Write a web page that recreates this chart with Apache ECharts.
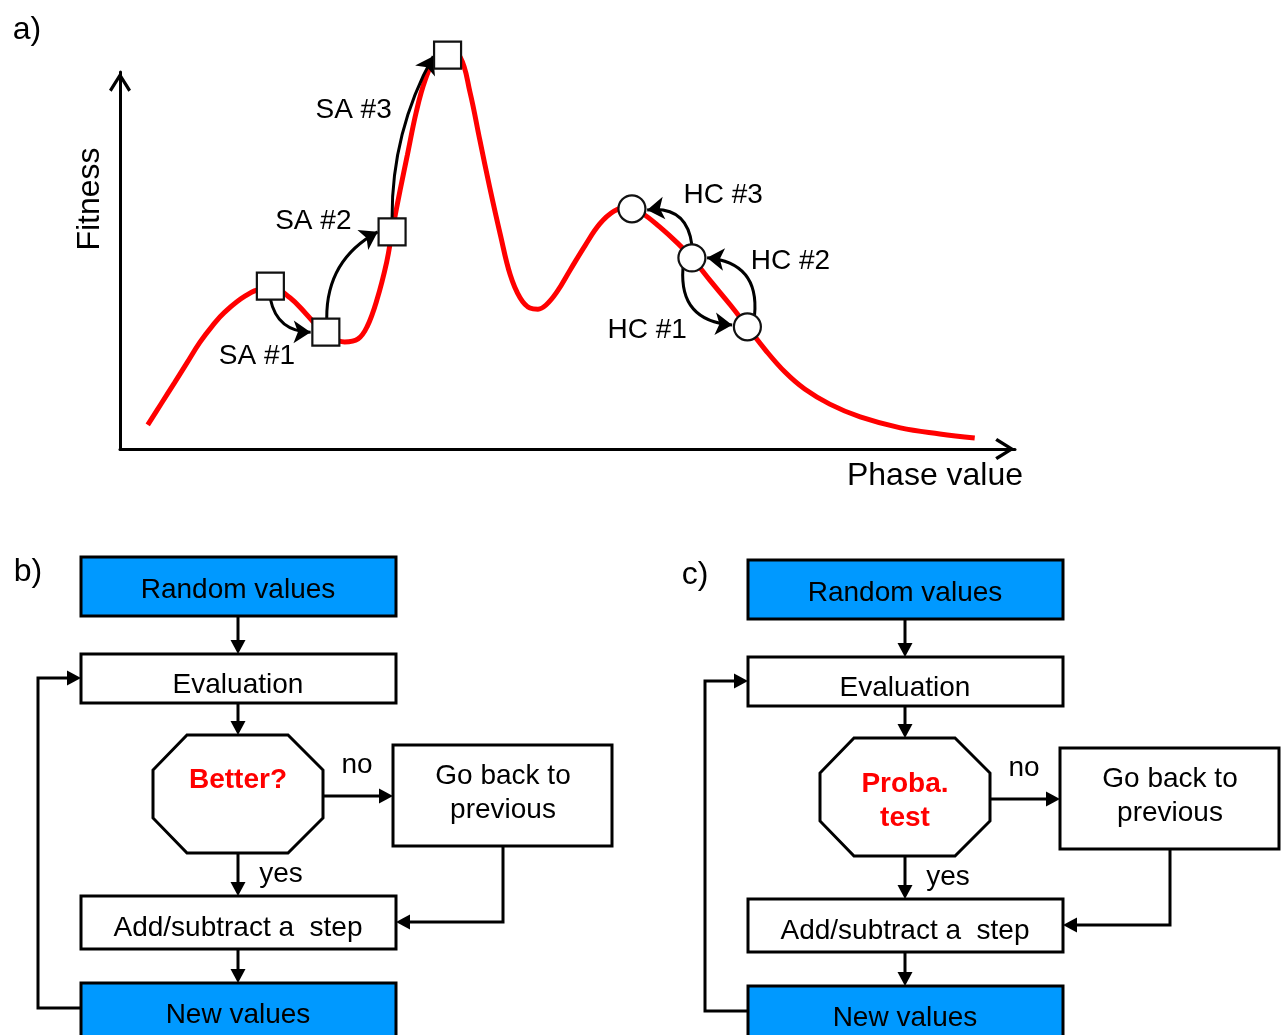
<!DOCTYPE html>
<html><head><meta charset="utf-8">
<script src="https://cdn.jsdelivr.net/npm/echarts@6/dist/echarts.min.js"></script>
<style>html,body{margin:0;padding:0;background:#fff}#main{width:1288px;height:1035px}</style>
</head><body><div id="main"></div>
<script>
// ---------- Panel a: fitness landscape ----------
const curvePhase = [3.1, 4.6, 6.1, 7.5, 8.9, 10.3, 11.7, 14.0, 15.9, 17.3, 19.0, 20.7, 22.1, 23.5, 25.1, 26.6, 27.6, 28.7, 29.8, 30.4, 31.3, 32.1, 33.1, 34.1, 35.3, 36.6, 38.0, 39.1, 40.2, 41.3, 42.5, 43.6, 44.7, 45.8, 46.7, 47.6, 48.8, 50.3, 52.0, 53.6, 55.2, 56.8, 58.3, 60.3, 62.3, 63.9, 65.9, 68.2, 70.1, 72.1, 74.3, 76.5, 79.3, 82.7, 87.2, 91.6, 95.5];
const curveFitness = [6.4, 12.0, 17.6, 22.9, 28.2, 32.6, 36.3, 40.6, 42.4, 42.4, 40.1, 36.1, 32.4, 29.7, 28.4, 29.2, 32.4, 39.5, 49.6, 57.6, 68.7, 77.9, 89.4, 97.9, 104.0, 105.8, 104.0, 94.7, 82.0, 69.5, 56.8, 46.2, 40.1, 37.4, 37.1, 38.2, 41.6, 47.5, 54.1, 59.7, 63.1, 64.2, 62.6, 58.9, 54.6, 50.7, 44.8, 38.2, 32.4, 26.3, 20.4, 15.9, 11.9, 8.5, 5.6, 4.0, 2.9];

const saPhase = [16.8, 23.0, 30.4, 36.6];
const saFitness = [43.2, 31.0, 57.6, 104.5];
const hcPhase = [57.2, 63.9, 70.1];
const hcFitness = [63.7, 50.7, 32.4];

const stepFrom = [[16.8, 39.8], [23.1, 34.7], [30.4, 61.3], [63.9, 54.1], [70.9, 35.5], [62.9, 48.0]];
const stepTo   = [[21.3, 31.0], [28.8, 57.6], [35.0, 104.2], [58.9, 63.4], [65.6, 50.7], [68.4, 32.9]];
const stepBend = [-0.4, 0.3, 0.13, -0.5, -0.5, -0.5];

const stepLabels = ['SA #1', 'SA #2', 'SA #3', 'HC #3', 'HC #2', 'HC #1'];
const labelPhase = [15.3, 21.6, 26.1, 67.4, 74.9, 58.9];
const labelFitness = [24.6, 60.4, 89.9, 67.3, 49.8, 31.5];

const axisNames = ['Phase value', 'Fitness'];
const panelLabels = ['a)', 'b)', 'c)'];

// ---------- Panels b, c: flowcharts ----------
const flowSteps = ['Random values', 'Evaluation', 'Add/subtract a  step', 'New values'];
const decisionB = ['Better?'];
const decisionC = ['Proba.', 'test'];
const goBackText = ['Go back to', 'previous'];
const branchLabels = ['no', 'yes'];

const FONT = '"Liberation Sans", Arial, sans-serif';
const BLUE = '#0099ff';

function txt(x, y, text, size, fill, weight, extra) {
  return Object.assign({
    type: 'text', x: x, y: y, z: 20,
    style: { text: text, fontSize: size, fontFamily: FONT, fontWeight: weight || 'normal',
      fill: fill || '#000', align: 'center', verticalAlign: 'middle' }
  }, extra || {});
}
function rect(x, y, w, h, fill) {
  return { type: 'rect', z: 10, shape: { x: x, y: y, width: w, height: h },
    style: { fill: fill, stroke: '#000', lineWidth: 3 } };
}
function arrow(points) {
  const n = points.length;
  const tip = points[n - 1], prev = points[n - 2];
  const dx = tip[0] - prev[0], dy = tip[1] - prev[1];
  const len = Math.sqrt(dx * dx + dy * dy);
  const ux = dx / len, uy = dy / len;
  const hl = 14, hw = 7.5;
  const base = [tip[0] - ux * hl, tip[1] - uy * hl];
  const pts = points.slice(0, n - 1).concat([[tip[0] - ux * (hl - 2), tip[1] - uy * (hl - 2)]]);
  return [
    { type: 'polyline', z: 11, shape: { points: pts }, style: { stroke: '#000', lineWidth: 3, fill: null } },
    { type: 'polygon', z: 12, shape: { points: [tip, [base[0] - uy * hw, base[1] + ux * hw], [base[0] + uy * hw, base[1] - ux * hw]] },
      style: { fill: '#000' } }
  ];
}

function flowchart(ox, oy, decision, label) {
  const X = v => v + ox, Y = v => v + oy;
  const cx = X(238);
  let els = [];
  els.push(txt(X(28), Y(572), label, 32));
  els.push(rect(X(81), Y(557), 315, 59, BLUE));
  els.push(txt(cx, Y(590), flowSteps[0], 28));
  els.push(rect(X(81), Y(654), 315, 49, '#fff'));
  els.push(txt(cx, Y(685), flowSteps[1], 28));
  els.push({ type: 'polygon', z: 10, shape: { points: [
      [X(187), Y(735)], [X(288), Y(735)], [X(323), Y(770)], [X(323), Y(818)],
      [X(288), Y(853)], [X(187), Y(853)], [X(153), Y(818)], [X(153), Y(770)]] },
    style: { fill: '#fff', stroke: '#000', lineWidth: 3 } });
  if (decision.length === 1) {
    els.push(txt(cx, Y(780), decision[0], 28, '#ff0000', 'bold'));
  } else {
    els.push(txt(cx, Y(781), decision[0], 28, '#ff0000', 'bold'));
    els.push(txt(cx, Y(815), decision[1], 28, '#ff0000', 'bold'));
  }
  els.push(txt(X(357), Y(765), branchLabels[0], 28));
  els.push(rect(X(393), Y(745), 219, 101, '#fff'));
  els.push(txt(X(503), Y(776), goBackText[0], 28));
  els.push(txt(X(503), Y(810), goBackText[1], 28));
  els.push(txt(X(281), Y(874), branchLabels[1], 28));
  els.push(rect(X(81), Y(896), 315, 53, '#fff'));
  els.push(txt(cx, Y(928), flowSteps[2], 28));
  els.push(rect(X(81), Y(983), 315, 56, BLUE));
  els.push(txt(cx, Y(1015), flowSteps[3], 28));
  els = els.concat(arrow([[cx, Y(616)], [cx, Y(654)]]));
  els = els.concat(arrow([[cx, Y(703)], [cx, Y(735)]]));
  els = els.concat(arrow([[X(323), Y(796)], [X(393), Y(796)]]));
  els = els.concat(arrow([[cx, Y(853)], [cx, Y(896)]]));
  els = els.concat(arrow([[X(503), Y(846)], [X(503), Y(922)], [X(396), Y(922)]]));
  els = els.concat(arrow([[cx, Y(949)], [cx, Y(983)]]));
  els = els.concat(arrow([[X(81), Y(1008)], [X(38), Y(1008)], [X(38), Y(678)], [X(81), Y(678)]]));
  return els;
}

const chevron = 'path://M10,0 L20,16 L17.6,17.8 L10,5.6 L2.4,17.8 L0,16 Z';
const axisLineCommon = {
  show: true,
  lineStyle: { color: '#000', width: 3 },
  symbol: ['none', chevron],
  symbolSize: [22, 20],
  symbolOffset: [0, -10]
};

const chart = echarts.init(document.getElementById('main'), null, { renderer: 'canvas' });
const graphics = [
  txt(27, 30, panelLabels[0], 32),
  txt(90, 199, axisNames[1], 32, '#000', 'normal', { rotation: Math.PI / 2 }),
  txt(935, 476, axisNames[0], 32)
].concat(flowchart(0, 0, decisionB, panelLabels[1]))
 .concat(flowchart(667, 3, decisionC, panelLabels[2]));

chart.setOption({
  animation: false,
  backgroundColor: '#fff',
  grid: { left: 120, right: 273, top: 72, bottom: 586, containLabel: false },
  xAxis: { type: 'value', min: 0, max: 100, axisLine: axisLineCommon,
    axisTick: { show: false }, axisLabel: { show: false }, splitLine: { show: false } },
  yAxis: { type: 'value', min: 0, max: 100, axisLine: axisLineCommon,
    axisTick: { show: false }, axisLabel: { show: false }, splitLine: { show: false } },
  series: [
    { type: 'line', data: curvePhase.map((x, i) => [x, curveFitness[i]]), smooth: 0.4,
      showSymbol: false, symbol: 'none', clip: false, z: 2,
      lineStyle: { color: '#ff0000', width: 5 } },
    { type: 'lines', coordinateSystem: 'cartesian2d', clip: false, z: 3,
      symbol: ['none', 'arrow'], symbolSize: 17,
      lineStyle: { color: '#000', width: 3, opacity: 1 },
      data: stepFrom.map((f, i) => ({ coords: [f, stepTo[i]], lineStyle: { curveness: stepBend[i] } })) },
    { type: 'scatter', data: saPhase.map((x, i) => [x, saFitness[i]]), symbol: 'rect', symbolSize: 27,
      clip: false, z: 4, itemStyle: { color: '#fff', borderColor: '#111', borderWidth: 2.2, opacity: 1 } },
    { type: 'scatter', data: hcPhase.map((x, i) => [x, hcFitness[i]]), symbol: 'circle', symbolSize: 27,
      clip: false, z: 4, itemStyle: { color: '#fff', borderColor: '#111', borderWidth: 2.2, opacity: 1 } },
    { type: 'custom', z: 5, clip: false,
      data: labelPhase.map((x, i) => [x, labelFitness[i], i]),
      renderItem: function (params, api) {
        const p = api.coord([api.value(0), api.value(1)]);
        return { type: 'text', x: p[0], y: p[1],
          style: { text: stepLabels[api.value(2)], fill: '#000', fontSize: 28, fontFamily: FONT,
            align: 'center', verticalAlign: 'middle' } };
      } }
  ],
  graphic: { elements: graphics }
});
</script></body></html>
